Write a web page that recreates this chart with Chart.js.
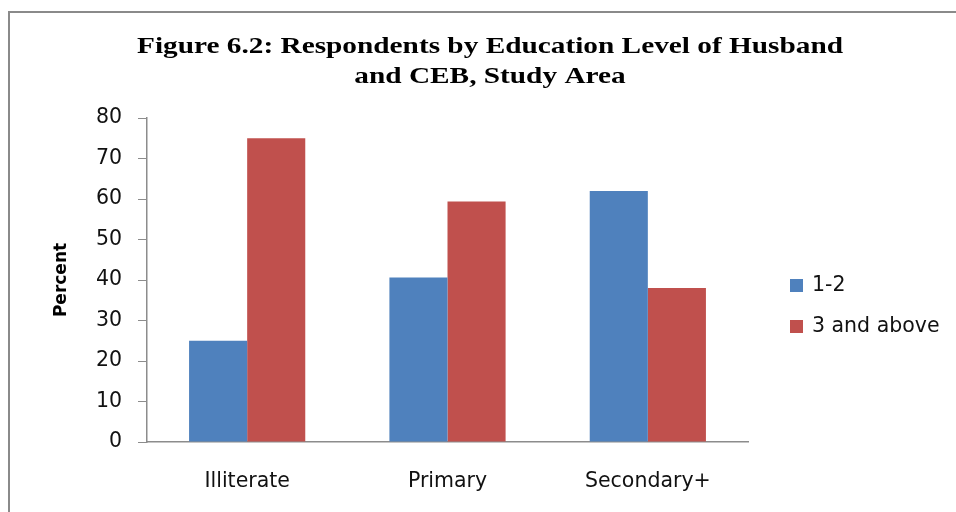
<!DOCTYPE html>
<html>
<head>
<meta charset="utf-8">
<title>Figure 6.2</title>
<script src="https://cdn.jsdelivr.net/npm/chart.js@4"></script>
<style>
    html, body { margin: 0; padding: 0; background: #fff; }
    #wrap { position: relative; width: 956px; height: 512px; }
</style>
</head>
<body>
<div id="wrap"><canvas id="the-graph" width="956" height="512"></canvas></div>
<script>
/*
 *  Data
 */

let categories = ['Illiterate', 'Primary', 'Secondary+'];
let lowCeb = [25, 40.6, 62];
let highCeb = [75, 59.4, 38];
let seriesNames = ['1-2', '3 and above'];
let seriesColors = ['#4F81BD', '#C0504D'];
let yTicks = [0, 10, 20, 30, 40, 50, 60, 70, 80];
let titleLines = ['Figure 6.2: Respondents by Education Level of Husband', 'and CEB, Study Area'];

let labelFont = '"DejaVu Sans", "Open Sans", sans-serif';
let labelSize = 20.5;

/*
 *  Plugins: page frame, title and side legend
 */

const framePlugin = {
    id: 'frame',
    beforeDraw(chart) {
        let ctx = chart.ctx;
        ctx.save();
        ctx.strokeStyle = '#8a8a8a';
        ctx.lineWidth = 2;
        ctx.beginPath();
        ctx.moveTo(9, 512);
        ctx.lineTo(9, 12);
        ctx.lineTo(956, 12);
        ctx.stroke();
        ctx.restore();
    }
};

// serif heading, widened a bit so the first line spans ~706px
const headingPlugin = {
    id: 'heading',
    afterDraw(chart) {
        let ctx = chart.ctx;
        ctx.save();
        ctx.font = 'bold 24px "Liberation Serif", "Times New Roman", serif';
        ctx.fillStyle = '#000';
        ctx.textAlign = 'center';
        ctx.textBaseline = 'alphabetic';
        let stretch = 706 / ctx.measureText(titleLines[0]).width;
        ctx.translate(490, 0);
        ctx.scale(stretch, 1);
        titleLines.forEach((line, i) => {
            ctx.fillText(line, 0, 53 + i * 30);
        });
        ctx.restore();
    }
};

const sideLegend = {
    id: 'sideLegend',
    afterDraw(chart) {
        let ctx = chart.ctx;
        ctx.save();
        ctx.font = labelSize + 'px ' + labelFont;
        ctx.textBaseline = 'middle';
        chart.data.datasets.forEach((ds, i) => {
            let y = 285 + i * 41;
            ctx.fillStyle = ds.backgroundColor;
            ctx.fillRect(790, y - 6, 13, 13);
            ctx.fillStyle = '#111';
            ctx.fillText(ds.label, 812, y + 1);
        });
        ctx.restore();
    }
};

/*
 *  Chart
 */

document.addEventListener('DOMContentLoaded', () => {
    let content = document.getElementById('the-graph').getContext('2d');
    new Chart(content, {
        type: 'bar',
        data: {
            labels: categories,
            datasets: [
                {
                    label: seriesNames[0],
                    backgroundColor: seriesColors[0],
                    data: lowCeb,
                },
                {
                    label: seriesNames[1],
                    backgroundColor: seriesColors[1],
                    data: highCeb,
                },
            ]
        },
        options: {
            responsive: false,
            animation: false,
            categoryPercentage: 0.58,
            barPercentage: 1,
            layout: {
                padding: { left: 50, right: 208, top: 118, bottom: 0 }
            },
            plugins: {
                legend: { display: false },
                tooltip: { enabled: false },
                title: { display: false }
            },
            scales: {
                x: {
                    afterFit: (scale) => { scale.height = 70; },
                    grid: { display: true, drawOnChartArea: false, drawTicks: false },
                    border: { display: true, color: '#8c8c8c', width: 1.5 },
                    ticks: {
                        color: '#111',
                        padding: 27,
                        font: { family: labelFont, size: labelSize }
                    }
                },
                y: {
                    min: 0,
                    max: 80,
                    afterFit: (scale) => { scale.width = 97; },
                    afterBuildTicks: (scale) => { scale.ticks = yTicks.map(v => ({ value: v })); },
                    grid: { display: true, drawOnChartArea: false, drawTicks: true, tickLength: 9, color: '#8c8c8c' },
                    border: { display: true, color: '#8c8c8c', width: 1.5 },
                    ticks: {
                        color: '#111',
                        padding: 16,
                        font: { family: labelFont, size: labelSize }
                    },
                    title: {
                        display: true,
                        text: 'Percent',
                        color: '#000',
                        padding: 1,
                        font: { family: labelFont, size: 17, weight: 'bold' }
                    }
                }
            }
        },
        plugins: [framePlugin, headingPlugin, sideLegend]
    });
});
</script>
</body>
</html>
